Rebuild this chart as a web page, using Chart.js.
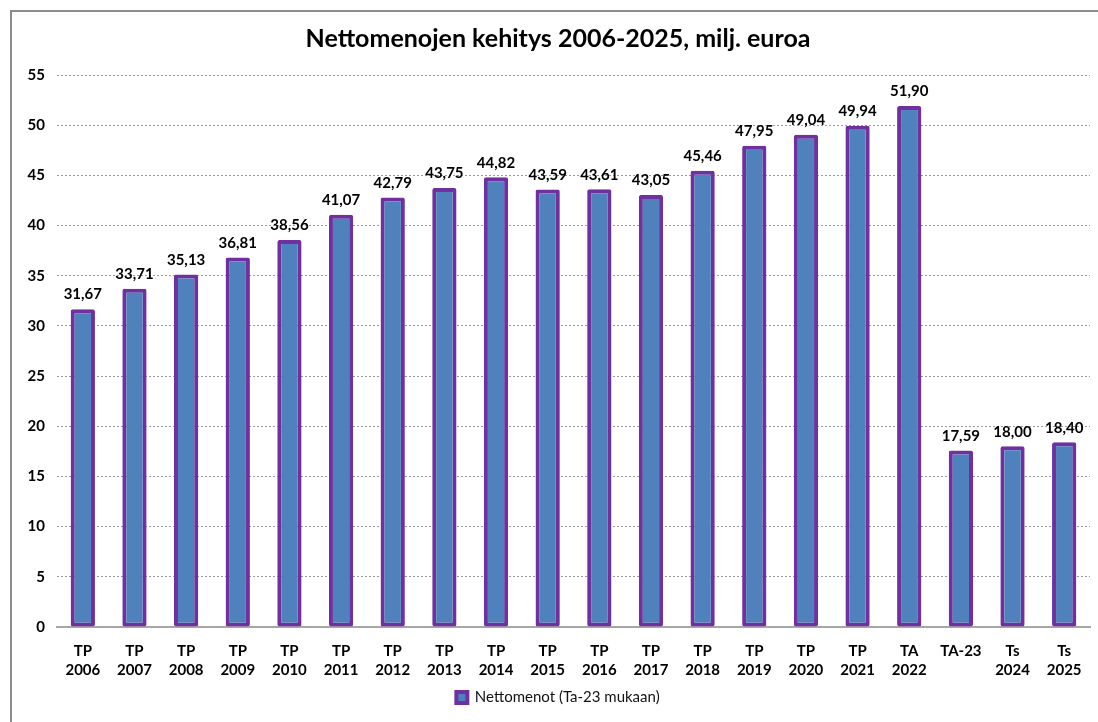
<!DOCTYPE html>
<html>
<head>
<meta charset="utf-8">
<script src="https://cdn.jsdelivr.net/npm/chart.js@4"></script>
<style>
  html, body { margin: 0; padding: 0; background: #fff; }
  #wrap { position: relative; width: 1098px; height: 722px; }
</style>
</head>
<body>
<div id="wrap"><canvas id="chart" width="1098" height="722"></canvas></div>
<script>
// ==============================
// DATA
// ==============================
const categories = [
  ["TP", "2006"], ["TP", "2007"], ["TP", "2008"], ["TP", "2009"], ["TP", "2010"],
  ["TP", "2011"], ["TP", "2012"], ["TP", "2013"], ["TP", "2014"], ["TP", "2015"],
  ["TP", "2016"], ["TP", "2017"], ["TP", "2018"], ["TP", "2019"], ["TP", "2020"],
  ["TP", "2021"], ["TA", "2022"], ["TA-23"], ["Ts", "2024"], ["Ts", "2025"]
];
const nettomenot = [
  31.67, 33.71, 35.13, 36.81, 38.56, 41.07, 42.79, 43.75, 44.82, 43.59,
  43.61, 43.05, 45.46, 47.95, 49.04, 49.94, 51.90, 17.59, 18.00, 18.40
];
const seriesName = "Nettomenot (Ta-23 mukaan)";
const titleText = "Nettomenojen kehitys 2006-2025, milj. euroa";
const yMin = 0, yMax = 55, yStep = 5;

const FONT = "Lato, 'Open Sans', sans-serif";

// ==============================
// PLUGINS
// ==============================
const frame = {
  id: "frame",
  beforeDraw(chart) {
    const c = chart.ctx;
    c.save();
    c.fillStyle = "#fff";
    c.fillRect(0, 0, chart.width, chart.height);
    c.strokeStyle = "#8c8c8c";
    c.lineWidth = 2;
    c.beginPath();
    c.moveTo(11, chart.height);
    c.lineTo(11, 11);
    c.lineTo(chart.width, 11);
    c.stroke();
    c.restore();
  }
};

const valueLabels = {
  id: "valueLabels",
  afterDatasetsDraw(chart) {
    const c = chart.ctx;
    const meta = chart.getDatasetMeta(0);
    c.save();
    c.font = "bold 15px " + FONT;
    c.fillStyle = "#000";
    c.textAlign = "center";
    c.textBaseline = "bottom";
    meta.data.forEach((bar, i) => {
      const v = chart.data.datasets[0].data[i];
      c.fillText(v.toFixed(2).replace(".", ","), bar.x, bar.y - 7);
    });
    c.restore();
  }
};

// ==============================
// CHART
// ==============================
new Chart(document.getElementById("chart"), {
  type: "bar",
  data: {
    labels: categories,
    datasets: [{
      label: seriesName,
      data: nettomenot,
      backgroundColor: "#4f81bd",
      borderColor: "#7030a0",
      borderWidth: 4,
      borderSkipped: false,
      borderRadius: 2,
      barPercentage: 0.47,
      categoryPercentage: 1.0
    }]
  },
  options: {
    responsive: false,
    animation: false,
    layout: { padding: { left: 26, right: 8, top: 0, bottom: 7 } },
    plugins: {
      title: {
        display: true,
        text: titleText,
        color: "#000",
        font: { family: FONT, size: 25, weight: "bold" },
        padding: { top: 24, bottom: 21 }
      },
      legend: {
        position: "bottom",
        labels: {
          color: "#111",
          font: { family: FONT, size: 15 },
          boxWidth: 11,
          boxHeight: 11,
          padding: 4
        }
      },
      tooltip: { enabled: false }
    },
    scales: {
      x: {
        grid: { display: true, drawOnChartArea: false, drawTicks: false },
        border: { display: true, color: "#a6a6a6", width: 2 },
        ticks: {
          color: "#000",
          font: { family: FONT, size: 15, weight: "bold", lineHeight: 1.3 },
          padding: 14,
          maxRotation: 0,
          autoSkip: false
        },
        afterFit(scale) { scale.height = 59; }
      },
      y: {
        min: yMin,
        max: yMax,
        ticks: {
          stepSize: yStep,
          color: "#000",
          font: { family: FONT, size: 15, weight: "bold" },
          padding: 12
        },
        grid: { color: "#9a9a9a", lineWidth: 1, drawTicks: false },
        border: { display: false, dash: [2, 2] },
        afterFit(scale) { scale.width = 31; }
      }
    }
  },
  plugins: [frame, valueLabels]
});
</script>
</body>
</html>
